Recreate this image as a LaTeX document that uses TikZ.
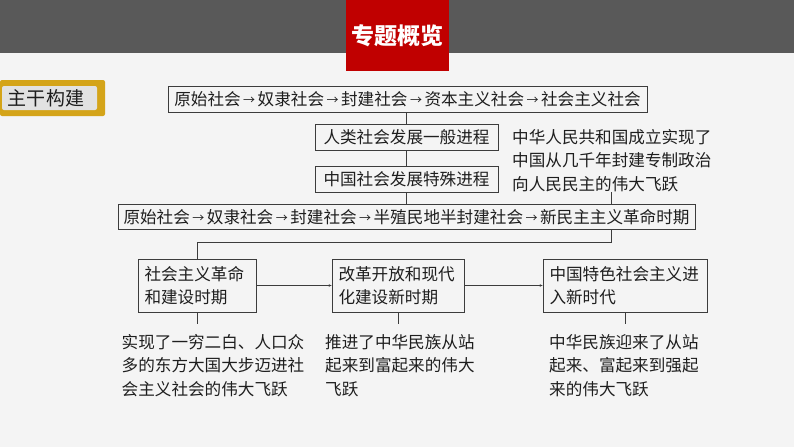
\documentclass[tikz,border=0pt]{standalone}
\usepackage{fontspec}
\setmainfont{Noto Sans CJK SC}
\usepackage{xcolor}
\usetikzlibrary{arrows.meta}
\definecolor{pagebg}{HTML}{F4F4F4}
\definecolor{bandgray}{HTML}{595959}
\definecolor{titlered}{HTML}{C00000}
\definecolor{labelgold}{HTML}{D4A419}
\definecolor{labelgray}{HTML}{E2E2E2}
\definecolor{inkgray}{HTML}{1E1E1E}
\definecolor{framegray}{HTML}{3C3C3C}
\newcommand{\stagearrow}{{\kern2.5pt\fontsize{12}{12}\selectfont\raisebox{1pt}{→}\kern2.5pt}}

\begin{document}
\begin{tikzpicture}[x=1pt,y=-1pt,
  every node/.style={text=inkgray, font=\fontsize{16.6}{23.5}\selectfont},
  stagebox/.style={draw=framegray, line width=0.8pt, inner sep=0pt,
    text height=14.6pt, text depth=2pt, minimum height=26pt},
  erabox/.style={draw=framegray, line width=0.8pt, inner xsep=6.5pt, inner ysep=0pt,
    align=left, minimum height=53pt},
  leapnote/.style={inner sep=0pt, outer ysep=10.7pt, align=left, anchor=base west},
  link/.style={draw=framegray, line width=0.7pt},
  flow/.style={link, -{Stealth[length=3pt,width=2.6pt]}}]
%% page
\fill[pagebg] (0,0) rectangle (794,447);
\useasboundingbox (0,0) rectangle (794,447);
\fill[bandgray] (0,0) rectangle (794,53);
\node[fill=titlered, minimum width=103pt, minimum height=71pt, inner sep=0pt, anchor=north,
  text=white, font=\fontsize{23}{23}\selectfont\bfseries] (title) at (397.5,0) {专题概览};
%% label
\fill[labelgold, rounded corners=2pt] (0,80) rectangle (105,116);
\fill[labelgray, rounded corners=2pt] (2,86) rectangle (97,110);
\node[font=\fontsize{19}{19}\selectfont] (label) at (46,98) {主干构建};
%% general and special process
\node[stagebox, minimum width=479pt] (world) at (407.5,99)
  {原始社会\stagearrow 奴隶社会\stagearrow 封建社会\stagearrow 资本主义社会\stagearrow 社会主义社会};
\node[stagebox, minimum width=183pt] (general) at (406.5,137) {人类社会发展一般进程};
\node[stagebox, minimum width=183pt] (special) at (406.5,179) {中国社会发展特殊进程};
\node[stagebox, minimum width=577pt, minimum height=25pt] (china) at (406.5,217)
  {原始社会\stagearrow 奴隶社会\stagearrow 封建社会\stagearrow 半殖民地半封建社会\stagearrow 新民主主义革命时期};
\node[leapnote, outer ysep=0.5pt] (leap) at (512,190.3)
  {中华人民共和国成立实现了\\中国从几千年封建专制政治\\向人民民主的伟大飞跃};
\draw[link] (world.south -| general.north) -- (general.north);
\draw[link] (general) -- (special);
\draw[link] (special.south) -- (special.south |- china.north);
\draw[link] (leap.south) -- (leap.south |- china.north);
%% three periods
\node[erabox, text width=105pt] (era1) at (197,285.5) {社会主义革命\\和建设时期};
\node[erabox, text width=119pt] (era2) at (398,285.5) {改革开放和现代\\化建设新时期};
\node[erabox, text width=151pt] (era3) at (625,285.5) {中国特色社会主义进\\入新时代};
\draw[link] (china.south -| leap.south) -- ++(0,12) -| (era1.north);
\draw[flow] (era1.east) -- (era2.west);
\draw[flow] (era2.east) -- (era3.west);
%% leaps
\node[leapnote] (res1) at (121.5,395.3) {实现了一穷二白、人口众\\多的东方大国大步迈进社\\会主义社会的伟大飞跃};
\node[leapnote] (res2) at (325,395.3) {推进了中华民族从站\\起来到富起来的伟大\\飞跃};
\node[leapnote] (res3) at (549,395.3) {中华民族迎来了从站\\起来、富起来到强起\\来的伟大飞跃};
\draw[link] (era1.south) -- (era1.south |- res1.north);
\draw[link] (era2.south) -- (era2.south |- res2.north);
\draw[link] (era3.south) -- (era3.south |- res3.north);

\end{tikzpicture}
\end{document}
